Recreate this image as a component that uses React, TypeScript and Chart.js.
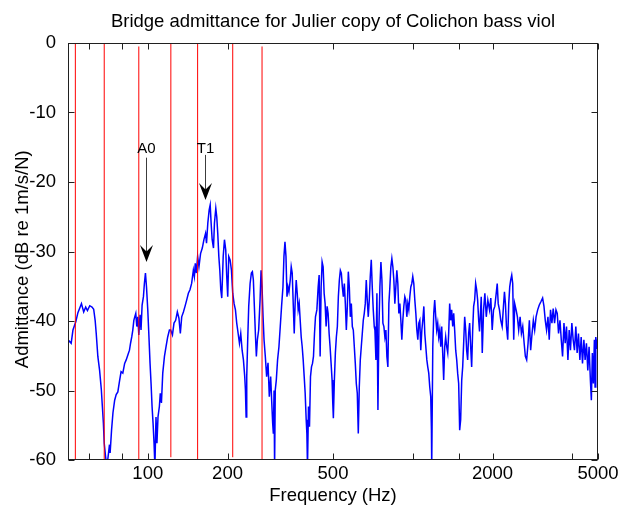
import React, { useEffect, useRef } from 'react';
import { Chart, registerables } from 'chart.js';

Chart.register(...registerables);

const FONT = "'Liberation Sans', Arial, Helvetica, sans-serif";

const chartTitle = 'Bridge admittance for Julier copy of Colichon bass viol';
const xAxisTitle = 'Frequency (Hz)';
const yAxisTitle = 'Admittance (dB re 1m/s/N)   ';

const freqHz = [
  50, 51.4, 52.2, 53.5, 54.5, 56.2, 57.3, 58.3, 59.2, 60.4,
  61.6, 62.5, 63.3, 63.9, 64.8, 65.8, 66.8, 67.4, 68.0, 68.5,
  69.3, 70.1, 71.1, 71.7, 72.1, 73.0, 73.9, 75.0, 76.0, 77.1,
  78.2, 79.3, 80.5, 81.8, 82.9, 84.1, 85.3, 86.1, 87.0, 87.8,
  88.6, 89.3, 90.1, 90.9, 91.7, 92.5, 93.5, 94.3, 95.2, 96.3,
  97.1, 98.0, 98.9, 100.0, 100.9, 102.0, 102.9, 103.8, 104.7, 105.6,
  106.4, 107.4, 108.3, 109.3, 110.6, 111.5, 112.6, 113.9, 115.6, 117.2,
  118.9, 120.7, 122.0, 123.9, 125.6, 127.4, 129.3, 131.1, 132.7, 134.3,
  136.3, 138.2, 140.2, 142.3, 144.3, 146.4, 148.6, 149.9, 151.1, 152.5,
  154.2, 156.0, 158.2, 160.6, 162.9, 165.2, 166.6, 168.5, 170.5, 172.0,
  173.4, 175.0, 177.0, 178.5, 180.6, 182.1, 183.7, 185.4, 187.0, 188.6,
  190.2, 192.6, 194.7, 196.9, 198.6, 200.3, 202.1, 204.5, 206.9, 209.2,
  211.7, 214.2, 216.6, 219.3, 221.8, 224.3, 227.0, 229.6, 232.2, 233.6,
  235.0, 236.3, 238.3, 240.4, 243.3, 246.0, 248.2, 250.3, 252.5, 254.7,
  256.9, 259.2, 262.1, 265.3, 267.6, 269.9, 272.3, 274.6, 277.7, 280.9,
  284.3, 287.5, 290.9, 293.4, 296.0, 297.8, 299.6, 301.0, 302.8, 305.5,
  308.9, 312.6, 316.2, 319.8, 323.7, 326.5, 329.4, 332.3, 335.2, 338.1,
  341.0, 344.8, 347.8, 350.8, 353.9, 357.0, 360.1, 363.2, 366.4, 369.5,
  372.8, 376.0, 379.3, 382.6, 385.9, 389.3, 392.6, 396.1, 398.5, 400.6,
  404.1, 407.6, 411.2, 414.8, 418.4, 422.0, 425.7, 429.4, 434.6, 439.5,
  443.3, 447.1, 451.0, 454.9, 458.9, 462.9, 466.9, 471.0, 475.1, 479.2,
  483.4, 487.5, 491.8, 496.0, 499.0, 501.6, 506.0, 510.4, 514.8, 519.3,
  523.8, 528.4, 533.0, 537.6, 542.3, 547.0, 551.8, 556.6, 561.4, 566.3,
  571.2, 576.2, 581.2, 586.3, 591.4, 596.5, 601.7, 606.9, 612.2, 617.5,
  622.9, 628.3, 633.8, 639.3, 644.9, 650.5, 656.1, 661.9, 667.6, 673.4,
  679.3, 685.2, 691.2, 697.2, 703.2, 709.4, 715.5, 719.7, 726.0, 732.3,
  738.8, 745.2, 751.6, 758.2, 764.8, 771.4, 778.1, 784.8, 791.7, 798.6,
  805.5, 812.5, 819.5, 826.6, 833.8, 841.1, 848.4, 855.8, 863.2, 870.7,
  878.3, 886.0, 893.7, 901.5, 909.3, 917.2, 925.2, 933.3, 941.4, 949.6,
  957.8, 966.2, 974.6, 983.1, 991.6, 1000, 1009, 1018, 1027, 1036,
  1045, 1054, 1063, 1072, 1082, 1091, 1101, 1110, 1120, 1130,
  1139, 1149, 1159, 1169, 1176, 1179, 1190, 1200, 1210, 1221,
  1231, 1242, 1253, 1264, 1275, 1286, 1297, 1308, 1320, 1331,
  1343, 1355, 1366, 1378, 1390, 1402, 1415, 1427, 1439, 1452,
  1465, 1477, 1490, 1503, 1516, 1530, 1543, 1556, 1570, 1584,
  1597, 1611, 1625, 1639, 1654, 1668, 1683, 1697, 1712, 1727,
  1742, 1757, 1773, 1786, 1813, 1829, 1850, 1871, 1894, 1920,
  1948, 1970, 1994, 2017, 2040, 2065, 2083, 2101, 2124, 2148,
  2174, 2199, 2218, 2237, 2257, 2282, 2302, 2322, 2342, 2363,
  2383, 2404, 2425, 2454, 2482, 2510, 2541, 2570, 2600, 2632,
  2660, 2690, 2723, 2754, 2785, 2819, 2851, 2884, 2919, 2960,
  3002, 3047, 3090, 3127, 3162, 3198, 3237, 3273, 3310, 3350,
  3388, 3428, 3470, 3509, 3549, 3593, 3634, 3675, 3720, 3760,
  3803, 3850, 3892, 3936, 3984, 4029, 4075, 4124, 4171, 4219,
  4272, 4320, 4370, 4423, 4470, 4522, 4576, 4627, 4680, 4720,
  4761, 4803, 4845, 4874, 4904, 4962, 5000,
];

const admittanceDb = [
  -42.7, -43.2, -41.3, -40.1, -38.8, -37.5, -38.7, -38.0, -38.5, -37.8,
  -38.0, -38.3, -39.9, -41.8, -45.1, -47.1, -49.9, -52.3, -54.7, -57.6,
  -59.5, -61, -59.0, -57.8, -59.0, -55.7, -53.2, -51.4, -50.6, -50.2,
  -48.7, -47.3, -47.5, -46.1, -45.6, -44.9, -44.2, -43.2, -42.3, -41.3,
  -39.9, -39.4, -38.9, -40.8, -39.4, -42.0, -39.1, -41.3, -37.7, -36.5,
  -34.6, -33.1, -35.1, -38.4, -41.8, -46.1, -49.0, -52.3, -54.7, -57.6,
  -61, -53.8, -57.6, -53.8, -52.3, -50.4, -51.8, -47.5, -45.1, -43.7,
  -42.3, -41.3, -41.3, -42.0, -40.3, -39.9, -38.7, -39.6, -41.8, -39.4,
  -38.7, -37.9, -37.0, -36.0, -35.5, -34.6, -32.7, -33.6, -31.7, -33.1,
  -30.7, -32.2, -30.3, -29.5, -28.3, -27.4, -28.8, -25.9, -24.0, -23.3,
  -25.9, -28.3, -29.5, -25.9, -23.8, -25.0, -27.4, -30.7, -32.7, -35.5,
  -36.7, -30.7, -28.3, -29.8, -33.6, -36.5, -30.7, -31.2, -32.7, -36.0,
  -37.5, -38.4, -40.3, -41.8, -43.2, -41.8, -44.2, -45.6, -48.0, -49.9,
  -53.8, -48.0, -42.7, -37.9, -34.6, -33.1, -32.9, -34.1, -37.9, -41.8,
  -45.1, -42.7, -41.3, -37.0, -32.7, -35.1, -39.4, -42.7, -45.1, -48.0,
  -46.0, -50.9, -48.0, -51.4, -54.7, -56.2, -50.0, -61, -49.9, -48.5,
  -45.6, -43.7, -40.8, -37.9, -35.1, -30.7, -28.6, -30.7, -36.5, -35.1,
  -35.8, -34.1, -32.2, -33.1, -37.5, -41.8, -37.0, -34.1, -36.0, -38.4,
  -37.5, -39.9, -42.3, -43.7, -45.6, -48.0, -50.4, -54.2, -56.2, -61,
  -52.3, -55.2, -48.0, -46.6, -46.1, -45.1, -41.8, -39.4, -38.4, -35.1,
  -33.4, -45.1, -35.1, -31.5, -32.2, -36.0, -37.5, -40.8, -37.9, -38.9,
  -41.8, -43.7, -46.1, -48.5, -51.8, -54.0, -48.5, -44.6, -42.3, -40.8,
  -36.5, -34.1, -32.7, -33.1, -35.1, -36.5, -34.6, -37.5, -41.3, -37.9,
  -32.9, -35.1, -39.4, -37.5, -40.8, -41.3, -43.7, -46.1, -49.0, -50.4,
  -56.2, -49.5, -45.6, -43.7, -41.8, -39.9, -38.9, -37.5, -34.1, -37.0,
  -39.4, -37.0, -33.6, -31.2, -35.1, -38.4, -40.8, -41.3, -45.6, -36.0,
  -52.8, -40.8, -35.1, -31.5, -34.1, -40.3, -40.8, -42.3, -41.3, -45.1,
  -46.6, -37.5, -35.1, -32.2, -31.0, -32.2, -34.1, -37.5, -35.1, -32.7,
  -34.6, -38.9, -37.5, -39.9, -42.7, -39.9, -37.9, -36.5, -37.0, -39.4,
  -37.5, -38.4, -36.5, -35.1, -34.6, -33.6, -34.6, -37.0, -38.9, -41.3,
  -42.7, -40.3, -39.9, -44.2, -41.3, -39.9, -37.9, -41.8, -43.7, -45.6,
  -46.6, -47.5, -49.5, -50.9, -55.7, -61, -43.7, -38.9, -37.0, -39.4,
  -41.3, -40.3, -42.3, -41.3, -43.7, -40.8, -44.6, -48.5, -43.7, -42.3,
  -43.7, -44.6, -41.8, -37.5, -39.9, -38.4, -40.8, -38.9, -41.3, -44.2,
  -45.6, -47.5, -49.0, -55.7, -54.2, -48.5, -46.6, -43.2, -39.4, -41.3,
  -44.2, -45.6, -41.8, -40.3, -43.7, -46.6, -41.3, -37.9, -37.0, -34.6,
  -35.5, -37.0, -39.9, -41.5, -36.5, -44.6, -38.4, -36.0, -39.4, -37.0,
  -38.4, -36.7, -41.3, -38.4, -37.9, -36.0, -34.6, -37.5, -38.4, -39.9,
  -40.8, -37.9, -35.8, -37.5, -40.8, -42.7, -37.5, -35.1, -34.1, -33.4,
  -34.6, -42.7, -37.5, -38.4, -39.4, -41.3, -39.4, -41.8, -40.8, -43.2,
  -45.1, -45.6, -43.2, -39.9, -44.2, -41.8, -39.9, -41.3, -39.4, -38.4,
  -37.7, -37.2, -36.7, -37.9, -39.9, -41.3, -39.4, -42.7, -38.4, -40.3,
  -38.2, -40.3, -38.4, -38.9, -41.8, -39.9, -42.7, -45.1, -40.3, -43.2,
  -40.8, -45.6, -41.3, -44.2, -40.3, -42.7, -44.2, -40.8, -44.6, -41.8,
  -45.6, -42.3, -46.1, -42.7, -45.6, -43.2, -47.1, -43.7, -48.5, -51.4,
  -44.6, -49.0, -42.7, -49.5, -42.3, -44.0, -42.0,
];

// open-string frequencies marked by red vertical lines
const stringFreqHz = [53.3, 68.5, 92.5, 122.2, 154.2, 209.2, 269.9];
const stringTopDb = [0, 0, -0.5, 0, 0, 0, -0.5];
const stringBottomDb = [-60, -60, -60, -59.6, -60, -59.6, -60];

const xTickValues = [60, 80, 100, 200, 500, 1000, 1500, 2000, 4000, 5000];
const xTickLabels = ['', '', '100', '200', '500', '', '', '2000', '', '5000'];
const yTickValues = [-60, -50, -40, -30, -20, -10, 0];

const annotationLabels = ['A0', 'T1'];
const annotationFreqHz = [98.3, 164.5];
const annotationTextDb = [-15.3, -15.3];
const annotationTailDb = [-16.5, -16.1];
const annotationTipDb = [-31.5, -22.6];

const matlabFramePlugin = {
  id: 'matlabFrame',
  afterDatasetsDraw(chart: any) {
    const { ctx, chartArea: a, scales } = chart;
    const xs = scales.x;
    const ys = scales.y;
    ctx.save();

    // annotations with arrows
    ctx.font = `15px ${FONT}`;
    ctx.textAlign = 'center';
    ctx.textBaseline = 'middle';
    annotationLabels.forEach((label, i) => {
      const x = Math.round(xs.getPixelForValue(annotationFreqHz[i])) + 0.5;
      const yText = ys.getPixelForValue(annotationTextDb[i]);
      const yTail = ys.getPixelForValue(annotationTailDb[i]);
      const yTip = ys.getPixelForValue(annotationTipDb[i]);
      ctx.fillStyle = '#000';
      ctx.fillText(label, x, yText);
      ctx.strokeStyle = '#3c3c3c';
      ctx.lineWidth = 1;
      ctx.beginPath();
      ctx.moveTo(x, yTail);
      ctx.lineTo(x, yTip - 9);
      ctx.stroke();
      ctx.fillStyle = '#000';
      ctx.beginPath();
      ctx.moveTo(x, yTip);
      ctx.lineTo(x - 6.5, yTip - 17);
      ctx.lineTo(x, yTip - 10.5);
      ctx.lineTo(x + 6.5, yTip - 17);
      ctx.closePath();
      ctx.fill();
    });

    // axes box
    const L = Math.round(a.left) + 0.5;
    const R = Math.round(a.right) - 0.5;
    const T = Math.round(a.top) + 0.5;
    const B = Math.round(a.bottom) - 0.5;
    ctx.strokeStyle = '#202020';
    ctx.lineWidth = 1;
    ctx.strokeRect(L, T, R - L, B - T);

    // inward ticks
    const tl = 6;
    ctx.beginPath();
    xTickValues.forEach((v) => {
      const px = Math.round(xs.getPixelForValue(v)) + 0.5;
      ctx.moveTo(px, B);
      ctx.lineTo(px, B - tl);
      ctx.moveTo(px, T);
      ctx.lineTo(px, T + tl);
    });
    yTickValues.forEach((v) => {
      const py = Math.round(ys.getPixelForValue(v)) + 0.5;
      ctx.moveTo(L, py);
      ctx.lineTo(L + tl, py);
      ctx.moveTo(R, py);
      ctx.lineTo(R - tl, py);
    });
    ctx.stroke();
    ctx.restore();
  },
};

export default function App() {
  const canvasRef = useRef<HTMLCanvasElement | null>(null);

  useEffect(() => {
    if (!canvasRef.current) return;
    const admittancePoints = freqHz.map((f, i) => ({ x: f, y: admittanceDb[i] }));
    const stringSets = stringFreqHz.map((f, i) => ({
      data: [
        { x: f, y: stringBottomDb[i] },
        { x: f, y: stringTopDb[i] },
      ],
      borderColor: '#ff0000',
      borderWidth: 1,
      pointRadius: 0,
      order: 0,
    }));

    const tickFont = { family: FONT, size: 18.5, weight: 'normal' as const, lineHeight: 1.2 };

    const chart = new Chart(canvasRef.current, {
      type: 'line',
      data: {
        datasets: [
          {
            data: admittancePoints,
            borderColor: '#0000ff',
            borderWidth: 1.5,
            pointRadius: 0,
            tension: 0,
            order: 1,
          },
          ...stringSets,
        ],
      },
      options: {
        animation: false,
        responsive: false,
        devicePixelRatio: 1,
        events: [],
        layout: { padding: { left: 0, right: 21, top: 0, bottom: 0 } },
        plugins: {
          legend: { display: false },
          tooltip: { enabled: false },
          title: {
            display: true,
            text: chartTitle,
            fullSize: false,
            color: '#000',
            font: tickFont,
            padding: { top: 11, bottom: 9.8 },
          },
        },
        scales: {
          x: {
            type: 'logarithmic',
            min: 50,
            max: 5000,
            afterBuildTicks: (s: any) => {
              s.ticks = xTickValues.map((v) => ({ value: v }));
            },
            afterFit: (s: any) => {
              s.height = 48;
              s.paddingLeft = 0;
              s.paddingRight = 0;
            },
            grid: { display: false },
            border: { display: false },
            ticks: {
              autoSkip: false,
              maxRotation: 0,
              color: '#000',
              font: tickFont,
              padding: -5,
              callback: (_v: any, i: number) => xTickLabels[i],
            },
            title: {
              display: true,
              text: xAxisTitle,
              color: '#000',
              font: tickFont,
              padding: { top: 0, bottom: 1 },
            },
          },
          y: {
            type: 'linear',
            min: -60,
            max: 0,
            afterBuildTicks: (s: any) => {
              s.ticks = yTickValues.map((v) => ({ value: v }));
            },
            afterFit: (s: any) => {
              s.width = 68;
              s.paddingTop = 0;
              s.paddingBottom = 0;
            },
            grid: { display: false },
            border: { display: false },
            ticks: {
              color: '#000',
              font: tickFont,
              padding: 4,
              callback: (v: any) => String(v),
            },
            title: {
              display: true,
              text: yAxisTitle,
              color: '#000',
              font: tickFont,
              padding: { top: 12, bottom: 0 },
            },
          },
        },
      },
      plugins: [matlabFramePlugin],
    } as any);

    return () => chart.destroy();
  }, []);

  return (
    <div style={{ position: 'fixed', left: 0, top: 0, width: 619, height: 508, background: '#fff' }}>
      <canvas ref={canvasRef} width={619} height={508} style={{ display: 'block' }} />
    </div>
  );
}
